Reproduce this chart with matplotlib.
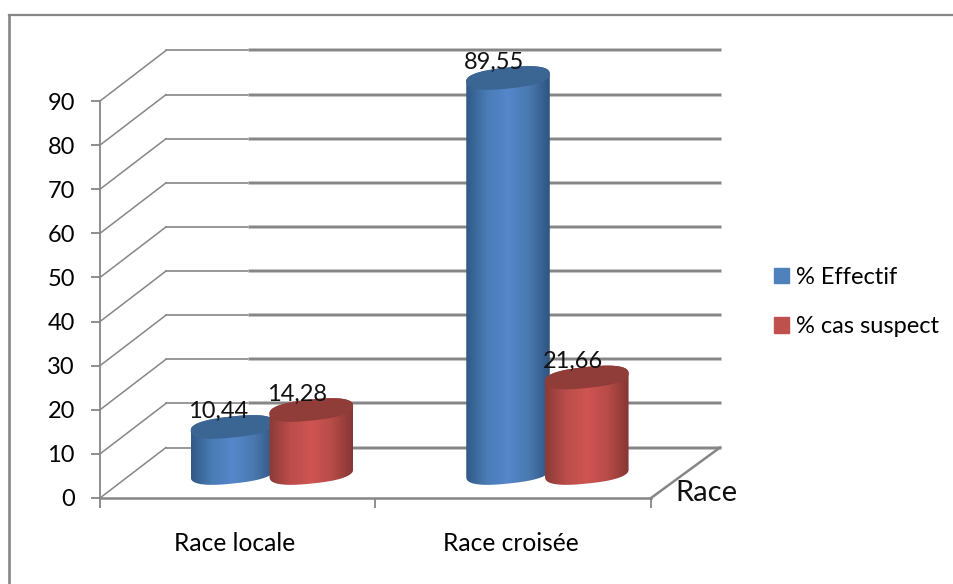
import numpy as np
import matplotlib
matplotlib.use('Agg')
import matplotlib.pyplot as plt
from matplotlib.colors import LinearSegmentedColormap
from matplotlib.lines import Line2D
from matplotlib.patches import Patch, PathPatch
from matplotlib.path import Path

categories = ['Race locale', 'Race croisée']
effectif = [10.44, 89.55]
cas_suspect = [14.28, 21.66]
value_labels_effectif = ['10,44', '89,55']
value_labels_cas = ['14,28', '21,66']
y_ticks = [0, 10, 20, 30, 40, 50, 60, 70, 80, 90]

plt.rcParams['font.family'] = ['Lato', 'DejaVu Sans']

W, H = 954, 584
GRAY = '#868686'

fig = plt.figure(figsize=(W / 100, H / 100), dpi=100)
# axes sit on the front plane of the 3D box
ax = fig.add_axes([100 / W, 1 - 498 / H, 551 / W, 397 / H])
ax.set_xlim(0, 2)
ax.set_ylim(0, 90)
PX = 2 / 551    # data units per pixel, x
PY = 90 / 397   # data units per pixel, y

# outer chart frame, only top and left edges are visible
fig.add_artist(Line2D([9.5 / W, 1], [1 - 15 / H] * 2, color=GRAY, lw=1.6))
fig.add_artist(Line2D([9.5 / W] * 2, [0, 1 - 15 / H], color=GRAY, lw=1.9))

for s in ['top', 'right']:
    ax.spines[s].set_visible(False)
ax.spines['left'].set_color(GRAY)
ax.spines['left'].set_linewidth(1.3)
ax.spines['bottom'].set_color(GRAY)
ax.spines['bottom'].set_linewidth(1.8)
ax.set_yticks(y_ticks)
ax.set_xticks([0, 1, 2])
ax.set_xticklabels([])
ax.set_xticks([0.487, 1.49], minor=True)
ax.set_xticklabels(categories, minor=True)
ax.tick_params(axis='x', which='major', color=GRAY, width=1.3, length=7, direction='out')
ax.tick_params(axis='x', which='minor', length=0, pad=24.5, labelsize=17.7)
ax.tick_params(axis='y', color=GRAY, width=1.3, length=6.5, pad=11.5, labelsize=17)

# box depth, the back wall is shifted up and to the right
depth_x = 66 * PX
depth_y = 50.5 * PY
right_x = (720 - 100) * PX
split_x = (250 - 100) * PX

# back wall gridlines: thin on the left part, heavier after split_x
for v in y_ticks:
    ax.plot([0, depth_x], [v, v + depth_y], color=GRAY, lw=1.1, clip_on=False, zorder=1)
    ax.plot([depth_x, split_x], [v + depth_y] * 2, color=GRAY, lw=1.2, clip_on=False, zorder=1)
    ax.plot([split_x, right_x], [v + depth_y] * 2, color='#c8c8c8', lw=2.6, clip_on=False, zorder=1)
    ax.plot([split_x, right_x], [v + depth_y] * 2, color=GRAY, lw=1.7, clip_on=False, zorder=1)
# right edge of the floor
ax.plot([2, right_x], [0, depth_y], color=GRAY, lw=1.8, clip_on=False, zorder=1)

blue_cmap = LinearSegmentedColormap.from_list('b', ['#315a86', '#4a7cb6', '#5587cb', '#4a79b0', '#2f5480'])
red_cmap = LinearSegmentedColormap.from_list('r', ['#8b3a38', '#bb4d4a', '#cf5552', '#b84b48', '#853735'])
BLUE_TOP = '#3b6593'
RED_TOP = '#903d3a'

HALF = 42 * PX
MINOR = 10.5
TILT = np.deg2rad(6)
BASE = 25 * PY     # cylinder base sits 25 px above the front floor line


def ellipse_px(t):
    # slightly squared ellipse, gives the blunt ends of the cylinder caps
    c = np.sign(np.cos(t)) * np.abs(np.cos(t)) ** 0.8
    s = np.sign(np.sin(t)) * np.abs(np.sin(t)) ** 0.8
    return (HALF / PX * c * np.cos(TILT) - MINOR * s * np.sin(TILT),
            HALF / PX * c * np.sin(TILT) + MINOR * s * np.cos(TILT))


def cylinder(x, value, cmap, top_color, z):
    y0 = BASE
    y1 = BASE + value
    t_low = np.linspace(np.pi, 2 * np.pi, 60)
    ex, ey = ellipse_px(t_low)
    t_up = np.linspace(0, np.pi, 60)
    ux, uy = ellipse_px(t_up)
    # body outline: lower arc of the base, up the right side, back along the top
    bx = np.concatenate([x + ex * PX, x + ux * PX])
    by = np.concatenate([y0 + ey * PY, y1 + uy * PY])
    body = PathPatch(Path(np.column_stack([bx, by]), closed=False), transform=ax.transData, fc='none', ec='none')
    ax.add_patch(body)
    body.set_clip_on(False)
    grad = np.linspace(0, 1, 128).reshape(1, -1)
    im = ax.imshow(grad, cmap=cmap, extent=[x - HALF, x + HALF, y0 - 3 * MINOR * PY, y1 + 3 * MINOR * PY],
                   aspect='auto', zorder=z, interpolation='bilinear')
    im.set_clip_path(body)
    im.set_clip_box(fig.bbox)
    t_full = np.linspace(0, 2 * np.pi, 120)
    fx, fy = ellipse_px(t_full)
    ax.fill(x + fx * PX, y1 + fy * PY, color=top_color, lw=0, zorder=z, clip_on=False)


group_offsets = [0.481, 0.767]
for i in range(len(categories)):
    cylinder(i + group_offsets[0], effectif[i], blue_cmap, BLUE_TOP, 2)
    ax.text(i + group_offsets[0] - 14 * PX, BASE + effectif[i] + 16 * PY, value_labels_effectif[i],
            ha='center', va='center', fontsize=17, color='#111111', zorder=5, clip_on=False)
for i in range(len(categories)):
    cylinder(i + group_offsets[1], cas_suspect[i], red_cmap, RED_TOP, 3)
    ax.text(i + group_offsets[1] - 14 * PX, BASE + cas_suspect[i] + 16 * PY, value_labels_cas[i],
            ha='center', va='center', fontsize=17, color='#111111', zorder=5, clip_on=False)

ax.set_xlim(0, 2)
ax.set_ylim(0, 90)

fig.text(706 / W, 1 - 493 / H, 'Race', ha='center', va='center', fontsize=21, color='#111111')

handles = [Patch(color='#4f81bd', label='% Effectif'), Patch(color='#c0504d', label='% cas suspect')]
fig.legend(handles=handles, loc='center left', bbox_to_anchor=(774 / W, 1 - 302 / H), frameon=False,
           fontsize=17, handlelength=0.65, handleheight=0.65, handletextpad=0.3, labelspacing=1.2,
           borderpad=0, borderaxespad=0)

fig.savefig('out.png', dpi=100)
